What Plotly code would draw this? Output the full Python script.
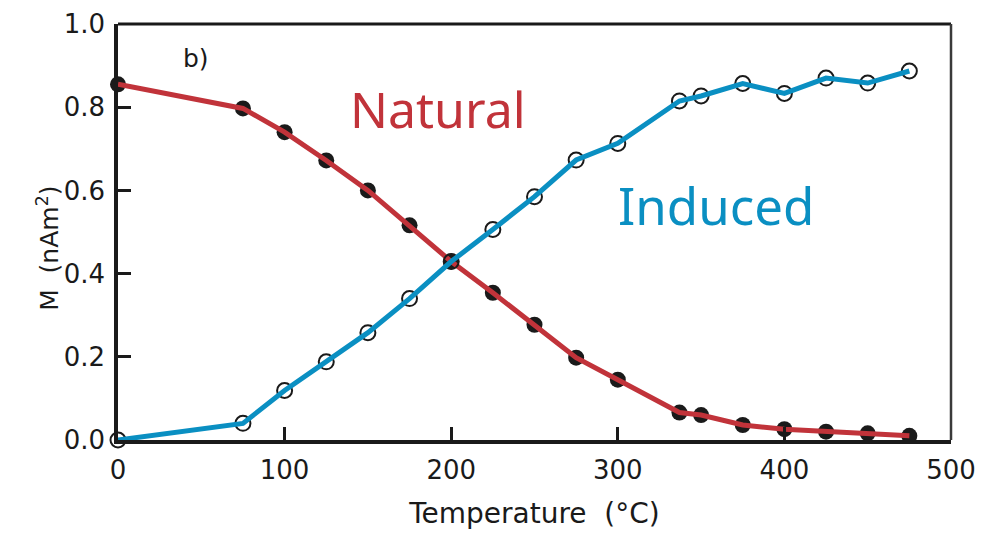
import plotly.graph_objects as go

# Thermal demagnetisation steps (°C)
temperature = [0, 75, 100, 125, 150, 175, 200, 225, 250, 275, 300,
               337, 350, 375, 400, 425, 450, 475]

# Natural remanence lost on heating (nAm^2)
natural = [0.855, 0.797, 0.740, 0.672, 0.600, 0.516, 0.429, 0.354, 0.277,
           0.198, 0.145, 0.066, 0.060, 0.036, 0.026, 0.020, 0.016, 0.010]

# Laboratory-induced remanence gained (nAm^2)
induced = [0.000, 0.040, 0.119, 0.188, 0.258, 0.340, 0.429, 0.506, 0.585,
           0.673, 0.713, 0.815, 0.827, 0.857, 0.833, 0.870, 0.858, 0.887]

x_ticks = [0, 100, 200, 300, 400, 500]
y_ticks = [0.0, 0.2, 0.4, 0.6, 0.8, 1.0]

RED = "#C1333A"
BLUE = "#0A8FC2"
INK = "#1a1a1a"
FONT = "'DejaVu Sans', sans-serif"
HAND = "'Noto Sans', 'DejaVu Sans', sans-serif"

fig = go.Figure()

fig.add_trace(go.Scatter(
    x=temperature, y=natural, mode="markers",
    marker=dict(symbol="circle", size=16, color=INK),
    showlegend=False, cliponaxis=False, hoverinfo="skip"))
fig.add_trace(go.Scatter(
    x=temperature, y=natural, mode="lines", name="Natural",
    line=dict(color=RED, width=5), showlegend=False, cliponaxis=False))
fig.add_trace(go.Scatter(
    x=temperature, y=induced, mode="markers",
    marker=dict(symbol="circle-open", size=15, color=INK,
                line=dict(width=2, color=INK)),
    showlegend=False, cliponaxis=False, hoverinfo="skip"))
fig.add_trace(go.Scatter(
    x=temperature, y=induced, mode="lines", name="Induced",
    line=dict(color=BLUE, width=5), showlegend=False, cliponaxis=False))

# Top and right frame lines
fig.add_shape(type="line", xref="paper", yref="paper", x0=0, x1=1, y0=1, y1=1,
              line=dict(color=INK, width=3))
fig.add_shape(type="line", xref="paper", yref="paper", x0=1, x1=1, y0=0, y1=1,
              line=dict(color="#3a3a3a", width=2.5))

fig.add_annotation(x=192, y=0.795, text="Natural", showarrow=False,
                   font=dict(family=HAND, size=50, color=RED))
fig.add_annotation(x=359, y=0.566, text="Induced", showarrow=False,
                   font=dict(family=HAND, size=51, color=BLUE))
fig.add_annotation(x=47, y=0.918, text="b)", showarrow=False,
                   font=dict(family=FONT, size=25, color=INK))

# Vertical axis title
fig.add_annotation(xref="paper", yref="paper", x=-0.106, y=0.46,
                   text="M  (nAm<sup>2</sup>)", textangle=-90, showarrow=False,
                   font=dict(family=FONT, size=25, color=INK))

fig.update_xaxes(
    range=[0, 500], tickvals=x_ticks, ticktext=[str(v) for v in x_ticks],
    showgrid=False, zeroline=False, showline=True, linecolor=INK,
    linewidth=3.5, ticks="inside", ticklen=13, tickwidth=2.5,
    tickcolor=INK, ticklabelstandoff=4, automargin=False,
    tickfont=dict(family=FONT, size=26, color=INK),
    title=dict(text="Temperature  (°C)", standoff=20,
               font=dict(family=FONT, size=28, color=INK)))
fig.update_yaxes(
    range=[0, 1.0], tickvals=y_ticks, ticktext=[f"{v:.1f}" for v in y_ticks],
    showgrid=False, zeroline=False, showline=True, linecolor=INK,
    linewidth=3.5, ticks="inside", ticklen=13, tickwidth=2.5,
    tickcolor=INK, ticklabelstandoff=4, automargin=False,
    tickfont=dict(family=FONT, size=26, color=INK))

fig.update_layout(
    width=985, height=533,
    margin=dict(l=118, r=34, t=24, b=93),
    paper_bgcolor="white", plot_bgcolor="white",
    showlegend=False)

fig.write_html("out.html")
